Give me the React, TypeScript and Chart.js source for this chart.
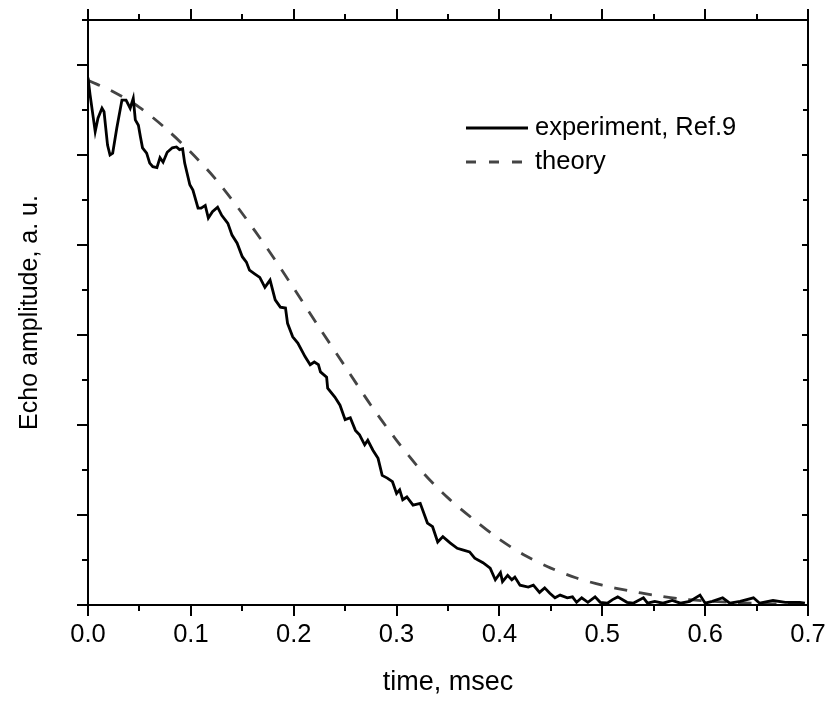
import React, { useEffect, useRef } from "react";
import { Chart, registerables } from "chart.js";

Chart.register(...registerables);

// ---- data ----
const expT = [0, 0.002, 0.007, 0.0097, 0.0136, 0.0156, 0.019, 0.0214, 0.024, 0.028, 0.033, 0.037, 0.041, 0.044, 0.046, 0.049, 0.051, 0.053, 0.057, 0.06, 0.063, 0.067, 0.07, 0.073, 0.077, 0.082, 0.086, 0.089, 0.092, 0.094, 0.099, 0.102, 0.107, 0.11, 0.114, 0.117, 0.121, 0.126, 0.13, 0.136, 0.14, 0.145, 0.15, 0.154, 0.157, 0.162, 0.167, 0.172, 0.177, 0.182, 0.187, 0.192, 0.194, 0.199, 0.204, 0.211, 0.216, 0.22, 0.224, 0.226, 0.232, 0.233, 0.24, 0.245, 0.25, 0.255, 0.26, 0.264, 0.269, 0.272, 0.277, 0.282, 0.286, 0.291, 0.296, 0.3, 0.303, 0.306, 0.31, 0.316, 0.323, 0.33, 0.335, 0.34, 0.345, 0.352, 0.359, 0.365, 0.371, 0.376, 0.384, 0.391, 0.396, 0.401, 0.403, 0.408, 0.412, 0.415, 0.42, 0.428, 0.433, 0.439, 0.444, 0.449, 0.454, 0.459, 0.466, 0.471, 0.475, 0.48, 0.486, 0.493, 0.498, 0.505, 0.51, 0.515, 0.524, 0.53, 0.54, 0.544, 0.551, 0.559, 0.568, 0.576, 0.585, 0.595, 0.6, 0.607, 0.617, 0.624, 0.634, 0.647, 0.653, 0.666, 0.678, 0.692, 0.697];
const expV = [5.86, 5.67, 5.26, 5.41, 5.52, 5.48, 5.11, 5.0, 5.02, 5.3, 5.61, 5.61, 5.52, 5.63, 5.39, 5.33, 5.2, 5.08, 5.02, 4.91, 4.87, 4.86, 4.97, 4.92, 5.03, 5.08, 5.09, 5.06, 5.07, 4.91, 4.67, 4.61, 4.41, 4.41, 4.44, 4.3, 4.37, 4.42, 4.33, 4.24, 4.11, 4.02, 3.87, 3.81, 3.72, 3.68, 3.64, 3.53, 3.61, 3.39, 3.31, 3.3, 3.13, 2.98, 2.91, 2.76, 2.67, 2.7, 2.67, 2.59, 2.53, 2.41, 2.31, 2.22, 2.06, 2.08, 1.94, 1.89, 1.78, 1.83, 1.72, 1.63, 1.44, 1.41, 1.37, 1.24, 1.28, 1.17, 1.2, 1.11, 1.13, 0.91, 0.87, 0.7, 0.76, 0.69, 0.63, 0.61, 0.59, 0.52, 0.47, 0.41, 0.28, 0.36, 0.26, 0.33, 0.28, 0.31, 0.22, 0.2, 0.22, 0.14, 0.19, 0.13, 0.08, 0.11, 0.08, 0.09, 0.03, 0.08, 0.03, 0.09, 0.03, 0.02, 0.06, 0.09, 0.03, 0.02, 0.08, 0.02, 0.04, 0.02, 0.05, 0.02, 0.04, 0.11, 0.02, 0.04, 0.08, 0.02, 0.04, 0.08, 0.02, 0.05, 0.03, 0.03, 0.02];

const theoryT = [0, 0.025, 0.05, 0.075, 0.1, 0.125, 0.15, 0.175, 0.2, 0.225, 0.25, 0.275, 0.3, 0.325, 0.35, 0.375, 0.4, 0.425, 0.45, 0.475, 0.5, 0.525, 0.55, 0.575, 0.6, 0.625, 0.65, 0.675, 0.7];
const theoryV = [5.83, 5.7, 5.53, 5.3, 5.03, 4.72, 4.35, 3.95, 3.52, 3.08, 2.65, 2.22, 1.83, 1.48, 1.19, 0.95, 0.73, 0.55, 0.41, 0.3, 0.22, 0.16, 0.11, 0.07, 0.045, 0.03, 0.02, 0.012, 0.008];

const xMajorTicks = [0, 0.1, 0.2, 0.3, 0.4, 0.5, 0.6, 0.7];
const xMinorTicks = [0.05, 0.15, 0.25, 0.35, 0.45, 0.55, 0.65];
const yMajorTicks = [0, 1, 2, 3, 4, 5, 6];
const yMinorTicks = [0.5, 1.5, 2.5, 3.5, 4.5, 5.5, 6.5];

const seriesNames = ["experiment, Ref.9", "theory"];
const xTitle = "time, msec";
const yTitle = "Echo amplitude, a. u.";

const FONT = "'Liberation Sans', Arial, Helvetica, sans-serif";

const framePlugin = {
  id: "framePlugin",
  afterDraw(chart: any) {
    const ctx = chart.ctx;
    const xs = chart.scales.x;
    const ys = chart.scales.y;
    const a = chart.chartArea;
    ctx.save();
    ctx.strokeStyle = "#000";
    ctx.lineWidth = 2;
    ctx.beginPath();
    xMajorTicks.forEach((v) => {
      const p = Math.round(xs.getPixelForValue(v));
      ctx.moveTo(p, a.bottom); ctx.lineTo(p, a.bottom + 11);
      ctx.moveTo(p, a.top); ctx.lineTo(p, a.top - 11);
    });
    xMinorTicks.forEach((v) => {
      const p = Math.round(xs.getPixelForValue(v));
      ctx.moveTo(p, a.bottom); ctx.lineTo(p, a.bottom + 6);
      ctx.moveTo(p, a.top); ctx.lineTo(p, a.top - 6);
    });
    yMajorTicks.forEach((v) => {
      const p = Math.round(ys.getPixelForValue(v));
      ctx.moveTo(a.left, p); ctx.lineTo(a.left - 11, p);
      ctx.moveTo(a.right, p); ctx.lineTo(a.right - 6, p);
    });
    yMinorTicks.forEach((v) => {
      const p = Math.round(ys.getPixelForValue(v));
      ctx.moveTo(a.left, p); ctx.lineTo(a.left - 6, p);
      ctx.moveTo(a.right, p); ctx.lineTo(a.right - 5, p);
    });
    ctx.stroke();
    // frame
    ctx.strokeRect(a.left, a.top, a.right - a.left, a.bottom - a.top);

    // legend
    const lx0 = 466, lx1 = 528, ly0 = 128, ly1 = 162;
    ctx.lineWidth = 3;
    ctx.strokeStyle = "#000";
    ctx.beginPath(); ctx.moveTo(lx0, ly0); ctx.lineTo(lx1, ly0); ctx.stroke();
    ctx.strokeStyle = "#444";
    ctx.setLineDash([10, 13]);
    ctx.beginPath(); ctx.moveTo(lx0, ly1); ctx.lineTo(lx1 + 2, ly1); ctx.stroke();
    ctx.setLineDash([]);
    ctx.fillStyle = "#000";
    ctx.font = `25.5px ${FONT}`;
    ctx.textBaseline = "middle";
    ctx.fillText(seriesNames[0], 535, ly0);
    ctx.fillText(seriesNames[1], 535, ly1);
    ctx.restore();
  },
};

export default function App() {
  const ref = useRef<HTMLCanvasElement>(null);
  useEffect(() => {
    const expData = expT.map((t, i) => ({ x: t, y: expV[i] }));
    const thData = theoryT.map((t, i) => ({ x: t, y: theoryV[i] }));
    const chart = new Chart(ref.current as HTMLCanvasElement, {
      type: "line",
      data: {
        datasets: [
          {
            label: seriesNames[0],
            data: expData,
            borderColor: "#000",
            borderWidth: 2.8,
            pointRadius: 0,
            tension: 0,
            fill: false,
          },
          {
            label: seriesNames[1],
            data: thData,
            borderColor: "#444",
            borderWidth: 2.8,
            borderDash: [13, 12],
            pointRadius: 0,
            tension: 0.3,
            fill: false,
          },
        ],
      },
      options: {
        animation: false,
        responsive: false,
        layout: { padding: 0 },
        plugins: { legend: { display: false }, tooltip: { enabled: false } },
        scales: {
          x: {
            type: "linear",
            position: "bottom",
            min: 0,
            max: 0.7,
            grid: { display: true, drawOnChartArea: false, drawTicks: true, tickLength: 12, color: "rgba(0,0,0,0)" },
            border: { display: false },
            ticks: {
              stepSize: 0.1,
              autoSkip: false,
              maxRotation: 0,
              padding: 3,
              color: "#000",
              font: { family: FONT, size: 25.5 },
              callback: (v: any) => Number(v).toFixed(1),
            },
            title: {
              display: true,
              text: xTitle,
              color: "#000",
              font: { family: FONT, size: 27 },
              padding: { top: 0, bottom: 5 },
            },
            afterFit: (s: any) => { s.height = 99; },
          },
          xTop: {
            type: "linear",
            position: "top",
            min: 0,
            max: 0.7,
            grid: { display: false },
            border: { display: false },
            ticks: { display: false },
            afterFit: (s: any) => { s.height = 20; },
          },
          y: {
            type: "linear",
            position: "left",
            min: 0,
            max: 6.5,
            grid: { display: false },
            border: { display: false },
            ticks: { display: false },
            title: {
              display: true,
              text: yTitle,
              color: "#000",
              font: { family: FONT, size: 25 },
              padding: { top: 15, bottom: 0 },
            },
            afterFit: (s: any) => { s.width = 88; },
          },
          yRight: {
            type: "linear",
            position: "right",
            min: 0,
            max: 6.5,
            grid: { display: false },
            border: { display: false },
            ticks: { display: false },
            afterFit: (s: any) => { s.width = 23; },
          },
        },
      } as any,
      plugins: [framePlugin],
    });
    return () => chart.destroy();
  }, []);
  return (
    <div style={{ position: "absolute", left: 0, top: 0, width: 831, height: 704, background: "#fff" }}>
      <canvas ref={ref} width={831} height={704} style={{ display: "block" }} />
    </div>
  );
}
